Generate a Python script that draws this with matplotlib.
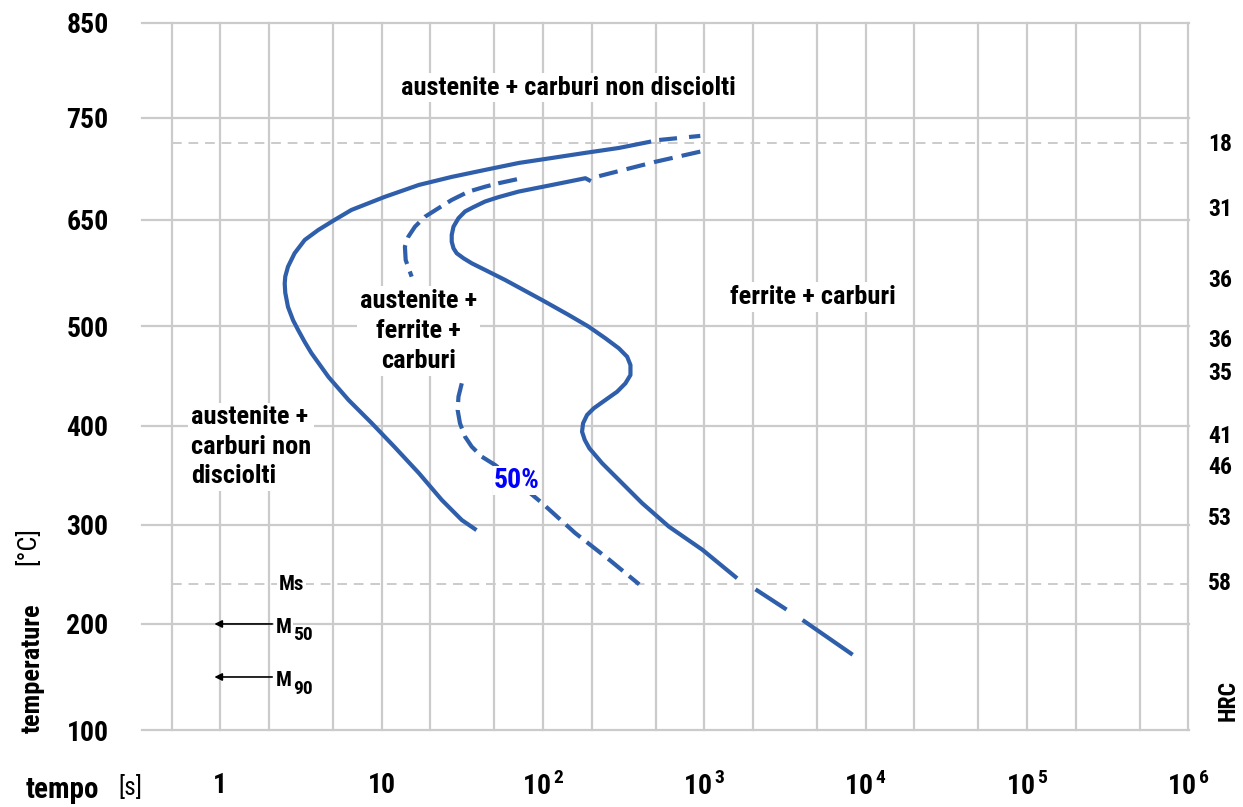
import numpy as np
import matplotlib.pyplot as plt
from matplotlib.ticker import NullLocator
import matplotlib.transforms as mtransforms

plt.rcParams['font.family'] = ['Roboto Condensed', 'DejaVu Sans']
plt.rcParams['font.weight'] = 'bold'
plt.rcParams['mathtext.fontset'] = 'custom'
plt.rcParams['mathtext.rm'] = 'Roboto Condensed'
plt.rcParams['mathtext.bf'] = 'Roboto Condensed:bold'

# temperature axis: the labelled rows are not evenly spaced in degrees
temp_ticks = [100, 200, 300, 400, 500, 650, 750, 850]
tick_rows = [0, 1.05, 2.03, 3.01, 4.0, 5.05, 6.06, 7.0]

time_ticks = [1, 10, 1e2, 1e3, 1e4, 1e5, 1e6]
time_labels = ['1', '10', r'$\mathbf{10}^{\,\mathrm{2}}$', r'$\mathbf{10}^{\,\mathrm{3}}$',
               r'$\mathbf{10}^{\,\mathrm{4}}$', r'$\mathbf{10}^{\,\mathrm{5}}$',
               r'$\mathbf{10}^{\,\mathrm{6}}$']
time_minor = [0.5, 2, 5, 20, 50, 200, 500, 2e3, 5e3, 2e4, 5e4, 2e5, 5e5]

a1_temp = 725
ms_temp = 240

# hardness HRC read at the right side
hrc_values = ['18', '31', '36', '36', '35', '41', '46', '53', '58']
hrc_temps = [724, 660, 565, 486, 453, 389, 358, 307, 241]

# martensite fractions (arrows on the left)
m_names = ['50', '90']
m_temps = [200, 150]

# start of transformation (solid) + dashed tail at the top
start_t = [455, 296, 182, 114, 71, 43.6, 27.2, 17, 10.4, 6.5, 5.11, 4.05, 3.34, 2.89,
           2.63, 2.53, 2.51, 2.53, 2.63, 2.83, 3.04, 3.34, 3.67, 4.69, 6.24, 8.67, 12.0,
           17, 23.6, 31.4, 37.8]
start_T = [726.5, 720.6, 715.7, 710.8, 705.9, 699, 692.2, 684.3, 672.5, 659.8, 650, 635.8,
           621.7, 602.9, 583.9, 570, 560, 547, 527, 508, 496, 484, 473, 449, 426, 403, 379,
           352.5, 325.3, 305, 296]
start_tail_t = [525, 944]
start_tail_T = [728.4, 732.4]

# 50% transformation (dashed), upper and lower branch
half_up_t = [69, 53.1, 43.8, 34.6, 27.2, 22.5, 18.6, 16.1, 14.65, 13.95, 14.1, 15.36]
half_up_T = [689.9, 686, 682.6, 677.8, 669.6, 661.5, 653.2, 640.5, 626.4, 612.2, 593.4, 569.8]
half_low_t = [31.4, 29.95, 29.6, 30.6, 32.9, 36.2, 41.8, 50.5, 69, 98.6, 158, 257, 395]
half_low_T = [442.7, 429.3, 416, 402.7, 389.2, 379.1, 369, 360.6, 343.4, 322.2, 292, 265, 240]

# end of transformation: dashed top, solid body, dashed bottom
end_top_t = [944, 497, 223]
end_top_T = [717, 707, 693]
end_t = [193, 183.2, 113.7, 70.6, 53.1, 43.8, 37.1, 32.9, 29.95, 27.9, 27.2, 27.2, 27.9,
         29.2, 32.2, 36.2, 43.8, 58.3, 98.6, 144.4, 192.2, 243.8, 295.3, 332.4, 348.5,
         348.5, 324.5, 288.2, 243.8, 206.5, 187.6, 177.2, 174.7, 181.6, 193.9, 232.6,
         309.6, 412, 603.6, 972, 1560]
end_T = [689, 690.9, 684.3, 677.8, 672.4, 668.1, 662.6, 658.3, 651.7, 640.5, 628.8, 619.3,
         610, 602.9, 595.8, 588.7, 579.3, 565.1, 536.8, 515.6, 499.3, 487.7, 477.7, 469.3,
         461, 451, 442.7, 434.3, 426, 417.7, 411, 402.7, 394.2, 385.9, 377.5, 362.4,
         342.2, 322, 298.3, 275, 247.5]
end_low_t = [2075, 4060, 8300]
end_low_T = [235, 204, 171]

blue = '#2f5faa'
grid_c = '#cbcbcb'


def to_row(v):
    return np.interp(v, temp_ticks, tick_rows)


def from_row(r):
    return np.interp(r, tick_rows, temp_ticks)


fig = plt.figure(figsize=(12.43, 8.07), dpi=100)
ax = fig.add_axes([0.1142, 0.0954, 0.8423, 0.8761])

ax.set_xscale('log')
ax.set_yscale('function', functions=(to_row, from_row))
ax.set_xlim(10 ** -0.485, 10 ** 6.003)
ax.set_ylim(100, 850)

for s in ax.spines.values():
    s.set_visible(False)

# grid
for t in time_ticks + time_minor:
    ax.axvline(t, color=grid_c, lw=1.6, zorder=1, clip_on=False)
for v in temp_ticks:
    ax.axhline(v, color=grid_c, lw=1.6, zorder=1, clip_on=False)
ax.hlines([a1_temp, ms_temp], 0.5, 1e6, colors=grid_c, lw=1.4,
          linestyles=(0, (5, 3.5)), zorder=1)

ax.set_xticks(time_ticks, time_labels)
ax.xaxis.set_minor_locator(NullLocator())
ax.set_yticks(temp_ticks, [str(v) for v in temp_ticks])
ax.yaxis.set_minor_locator(NullLocator())
ax.tick_params(which='both', length=0)
ax.tick_params(axis='y', pad=24, labelsize=20)
ax.tick_params(axis='x', pad=30, labelsize=20)

# curves
lw = 3
ax.plot(start_t, start_T, color=blue, lw=lw, solid_joinstyle='round', zorder=3)
ax.plot(start_tail_t, start_tail_T, color=blue, lw=lw, dashes=(4.3, 2.9), zorder=3)
ax.plot(half_up_t, half_up_T, color=blue, lw=lw, dashes=(4.6, 1.9), zorder=3)
ax.plot(half_low_t, half_low_T, color=blue, lw=lw, dashes=(4.6, 1.9), zorder=3)
ax.plot(end_top_t, end_top_T, color=blue, lw=lw, dashes=(4.6, 2.2), zorder=3)
ax.plot(end_t, end_T, color=blue, lw=lw, solid_joinstyle='round', zorder=3)
ax.plot(end_low_t, end_low_T, color=blue, lw=lw, dashes=(8.9, 4.6, 14.9, 4.6), zorder=3)

box = dict(facecolor='white', edgecolor='none', pad=2)
ax.text(143, 782, 'austenite + carburi non disciolti', fontsize=19, ha='center',
        va='center', bbox=box, zorder=5)
ax.text(17, 495, 'austenite +\nferrite +\ncarburi', fontsize=19, ha='center',
        va='center', linespacing=1.3, bbox=box, zorder=5)
ax.text(0.66, 379, 'austenite +\ncarburi non\ndisciolti', fontsize=19, ha='left',
        va='center', linespacing=1.28, bbox=box, zorder=5)
ax.text(4680, 541, 'ferrite + carburi', fontsize=19, ha='center', va='center',
        bbox=box, zorder=5)
ax.text(69, 345, '50%', fontsize=20, color='#0000ff', ha='center', va='center',
        bbox=dict(facecolor='white', edgecolor='none', pad=0.5), zorder=5)
ax.text(2.76, ms_temp, 'Ms', fontsize=15, ha='center', va='center',
        bbox=dict(facecolor='white', edgecolor='none', pad=1), zorder=5)

small_box = dict(facecolor='white', edgecolor='none', pad=1)
for name, temp in zip(m_names, m_temps):
    ax.annotate('', xy=(0.92, temp), xytext=(2.1, temp),
                arrowprops=dict(arrowstyle='-|>', color='black', lw=1.2,
                                mutation_scale=11, shrinkA=0, shrinkB=0), zorder=5)
    ax.text(2.2, temp - 3, 'M', fontsize=15, ha='left', va='center', bbox=small_box,
            zorder=5)
    ax.annotate(name, xy=(2.2, temp - 3), xytext=(13, -6), textcoords='offset points',
                fontsize=14, ha='left', va='center', bbox=small_box, zorder=5)

# HRC column on the right
trans = mtransforms.blended_transform_factory(ax.transAxes, ax.transData)
for lab, temp in zip(hrc_values, hrc_temps):
    ax.text(1.030, temp, lab, fontsize=17, ha='center', va='center', transform=trans)
ax.text(1.037, 128, 'HRC', fontsize=17, rotation=90, ha='center', va='center',
        transform=trans)

# axis titles
fig.text(0.026, 0.172, 'temperature', fontsize=19, rotation=90, ha='center', va='center')
fig.text(0.022, 0.323, '[°C]', fontsize=19, rotation=90, ha='center', va='center',
         fontweight='normal')
fig.text(0.050, 0.021, 'tempo', fontsize=21, ha='center', va='center')
fig.text(0.105, 0.024, '[s]', fontsize=18, ha='center', va='center', fontweight='normal')

fig.savefig('out.png', dpi=100)
